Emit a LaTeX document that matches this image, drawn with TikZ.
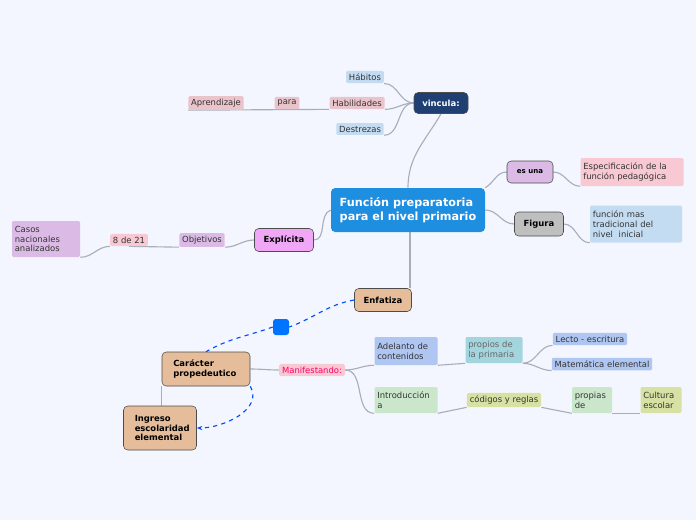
\documentclass[tikz,border=0pt]{standalone}
\usepackage{fontspec}
\setmainfont{DejaVu Sans}
\usetikzlibrary{%
    arrows.meta,
    backgrounds,
    calc,
    positioning
}
\definecolor{bgpage}{HTML}{F3F6FE}
\definecolor{mainblue}{HTML}{1E8FE0}
\definecolor{navy}{HTML}{1F3F73}
\definecolor{paleblue}{HTML}{C3DCF2}
\definecolor{palepink}{HTML}{EBC3CB}
\definecolor{pinkleaf}{HTML}{F8C8D3}
\definecolor{lilac}{HTML}{DBBBE6}
\definecolor{magent}{HTML}{F0A8F6}
\definecolor{tan}{HTML}{E6BD9A}
\definecolor{teal}{HTML}{A3D5DE}
\definecolor{pgreen}{HTML}{CBE7CB}
\definecolor{ygreen}{HTML}{D6E1A3}
\definecolor{linegrey}{HTML}{A8AEB8}

\begin{document}
\begin{tikzpicture}[x={(0.025cm,0)}, y={(0,-0.025cm)},
    font=\fontsize{6}{7}\selectfont,
    every node/.style={inner sep=2pt, align=left},
    leaf/.style={rounded corners=1pt, text=black!80},
    box/.style 2 args={text width=#1*0.025cm-4pt, minimum height=#2*0.025cm},
    topic/.style={draw=black!70, rounded corners=3pt, align=center, font=\fontsize{6}{7}\selectfont\bfseries},
    link/.style={draw=linegrey, thick},
    relation/.style={draw=blue!70!cyan, dashed, thick}
   ]
    \useasboundingbox (0,0) rectangle (696,520);

    % central topic and main branches
    \node[fill=mainblue, text=white, rounded corners=3pt, minimum width=154*0.025cm, minimum height=44*0.025cm,
          font=\fontsize{8}{9.5}\selectfont\bfseries] (main) at (408,210) {Función preparatoria\\para el nivel primario};
    \node[topic, fill=navy, text=white, minimum width=54*0.025cm, minimum height=21*0.025cm] (vincula) at (441,103) {vincula:};
    \node[topic, fill=lilac, minimum width=46*0.025cm, minimum height=22*0.025cm, font=\fontsize{5}{6}\selectfont\bfseries] (esuna) at (530,172) {es una};
    \node[topic, fill=black!25, minimum width=49*0.025cm, minimum height=24*0.025cm] (figura) at (539,224) {Figura};
    \node[topic, fill=magent, minimum width=59*0.025cm, minimum height=23*0.025cm] (explicita) at (284,240) {Explícita};
    \node[topic, fill=tan, minimum width=57*0.025cm, minimum height=23*0.025cm] (enfatiza) at (383,300) {Enfatiza};
    \node[topic, fill=tan, align=left, box={88}{34}] (caracter) at (206,369) {\hspace*{6pt}Carácter\\\hspace*{6pt}propedeutico};
    \node[topic, fill=tan, align=left, box={73}{44}] (ingreso) at (160,428) {\hspace*{6pt}Ingreso\\\hspace*{6pt}escolaridad\\\hspace*{6pt}elemental};

    % leaves
    \node[leaf, fill=paleblue] (habitos) at (365,77) {Hábitos};
    \node[leaf, fill=palepink] (habilidades) at (357,103) {Habilidades};
    \node[leaf, fill=palepink] (para) at (287,103) {para};
    \node[leaf, fill=palepink] (aprendizaje) at (216,103) {Aprendizaje};
    \node[leaf, fill=paleblue] (destrezas) at (360,129) {Destrezas};
    \node[leaf, fill=pinkleaf, box={103}{28}] (especif) at (632,172) {Especificación de la función pedagógica};
    \node[leaf, fill=paleblue, box={92}{37}] (tradic) at (636,224) {función mas\\tradicional del\\nivel~ inicial};
    \node[leaf, fill=lilac] (objetivos) at (202,240) {Objetivos};
    \node[leaf, fill=pinkleaf] (ochode) at (129,240) {8 de 21};
    \node[leaf, fill=lilac, box={68}{36}] (casos) at (46,239) {Casos\\nacionales\\analizados};
    \node[leaf, fill=pinkleaf, text=red!60!magenta] (manif) at (312,370) {Manifestando:};
    \node[leaf, fill=paleblue!90!blue, box={63}{28}] (adelanto) at (406,351) {Adelanto de\\contenidos};
    \node[leaf, fill=teal, text=black!60, box={57}{26}] (propios) at (494,350) {propios de\\la primaria};
    \node[leaf, fill=paleblue!90!blue] (lecto) at (590,339) {Lecto - escritura};
    \node[leaf, fill=paleblue!90!blue] (matem) at (602,364) {Matemática elemental};
    \node[leaf, fill=pgreen, box={63}{26}] (intro) at (406,400) {Introducción\\a};
    \node[leaf, fill=ygreen] (codigos) at (504,400) {códigos y reglas};
    \node[leaf, fill=pgreen, box={40}{26}] (propias) at (592,400) {propias\\de};
    \node[leaf, fill=ygreen, box={41}{26}] (cultura) at (661,400) {Cultura\\escolar};
    \node[fill=blue!55!cyan, rounded corners=2pt, minimum size=16*0.025cm] (square) at (281,327) {};

    % connectors
    \begin{pgfonlayer}{background}
        \fill[bgpage] (0,0) rectangle (696,520);
        \draw[link] (main.north) to[out=90, in=-120] (vincula.south);
        \draw[link] (main.north east) to[out=30, in=180] (esuna.west);
        \draw[link] (main.east) to[out=0, in=180] (figura.west);
        \draw[link] (main.west) to[out=200, in=0] (explicita.east);
        \draw[link] (main.south -| 410,0) -- (enfatiza.north -| 410,0);
        \foreach \Leaf in {habitos, habilidades, destrezas}
            \draw[link] (vincula.west) to[out=180, in=0] (\Leaf.south east);
        \draw[link] (habilidades.south west) -- (aprendizaje.south west);
        \draw[link] (esuna.east) to[out=0, in=180] (especif.south west);
        \draw[link] (figura.east) to[out=0, in=180] (tradic.south west);
        \draw[link] (explicita.west) to[out=180, in=0] (objetivos.south east);
        \draw[link] (objetivos.south west) -- (ochode.south);
        \draw[link] (ochode.south west) to[out=180, in=0] (casos.south east);
        \draw[link] (caracter.east) to[out=0, in=180] (manif.west);
        \draw[link] (manif.east) to[out=0, in=180] (adelanto.south west);
        \draw[link] (manif.east) to[out=0, in=180] (intro.south west);
        \draw[link] (adelanto.south east) -- (propios.south west);
        \draw[link] (propios.south east) to[out=0, in=180] (lecto.south west);
        \draw[link] (propios.south east) to[out=0, in=180] (matem.south west);
        \draw[link] (intro.south east) -- (codigos.south west);
        \draw[link] (codigos.south east) -- (propias.south west);
        \draw[link] (propias.south east) -- (cultura.south west);
        \draw[link] (caracter.south west) -- (ingreso.north -| caracter.south west);
    \end{pgfonlayer}
    \draw[relation] (enfatiza.west) to[out=190, in=20] (square.east);
    \draw[relation] (square.west) to[out=200, in=30] (caracter.north);
    \draw[relation, -{Stealth[length=4pt]}] (caracter.south east) to[out=-60, in=0] (ingreso.east);
\end{tikzpicture}
\end{document}
